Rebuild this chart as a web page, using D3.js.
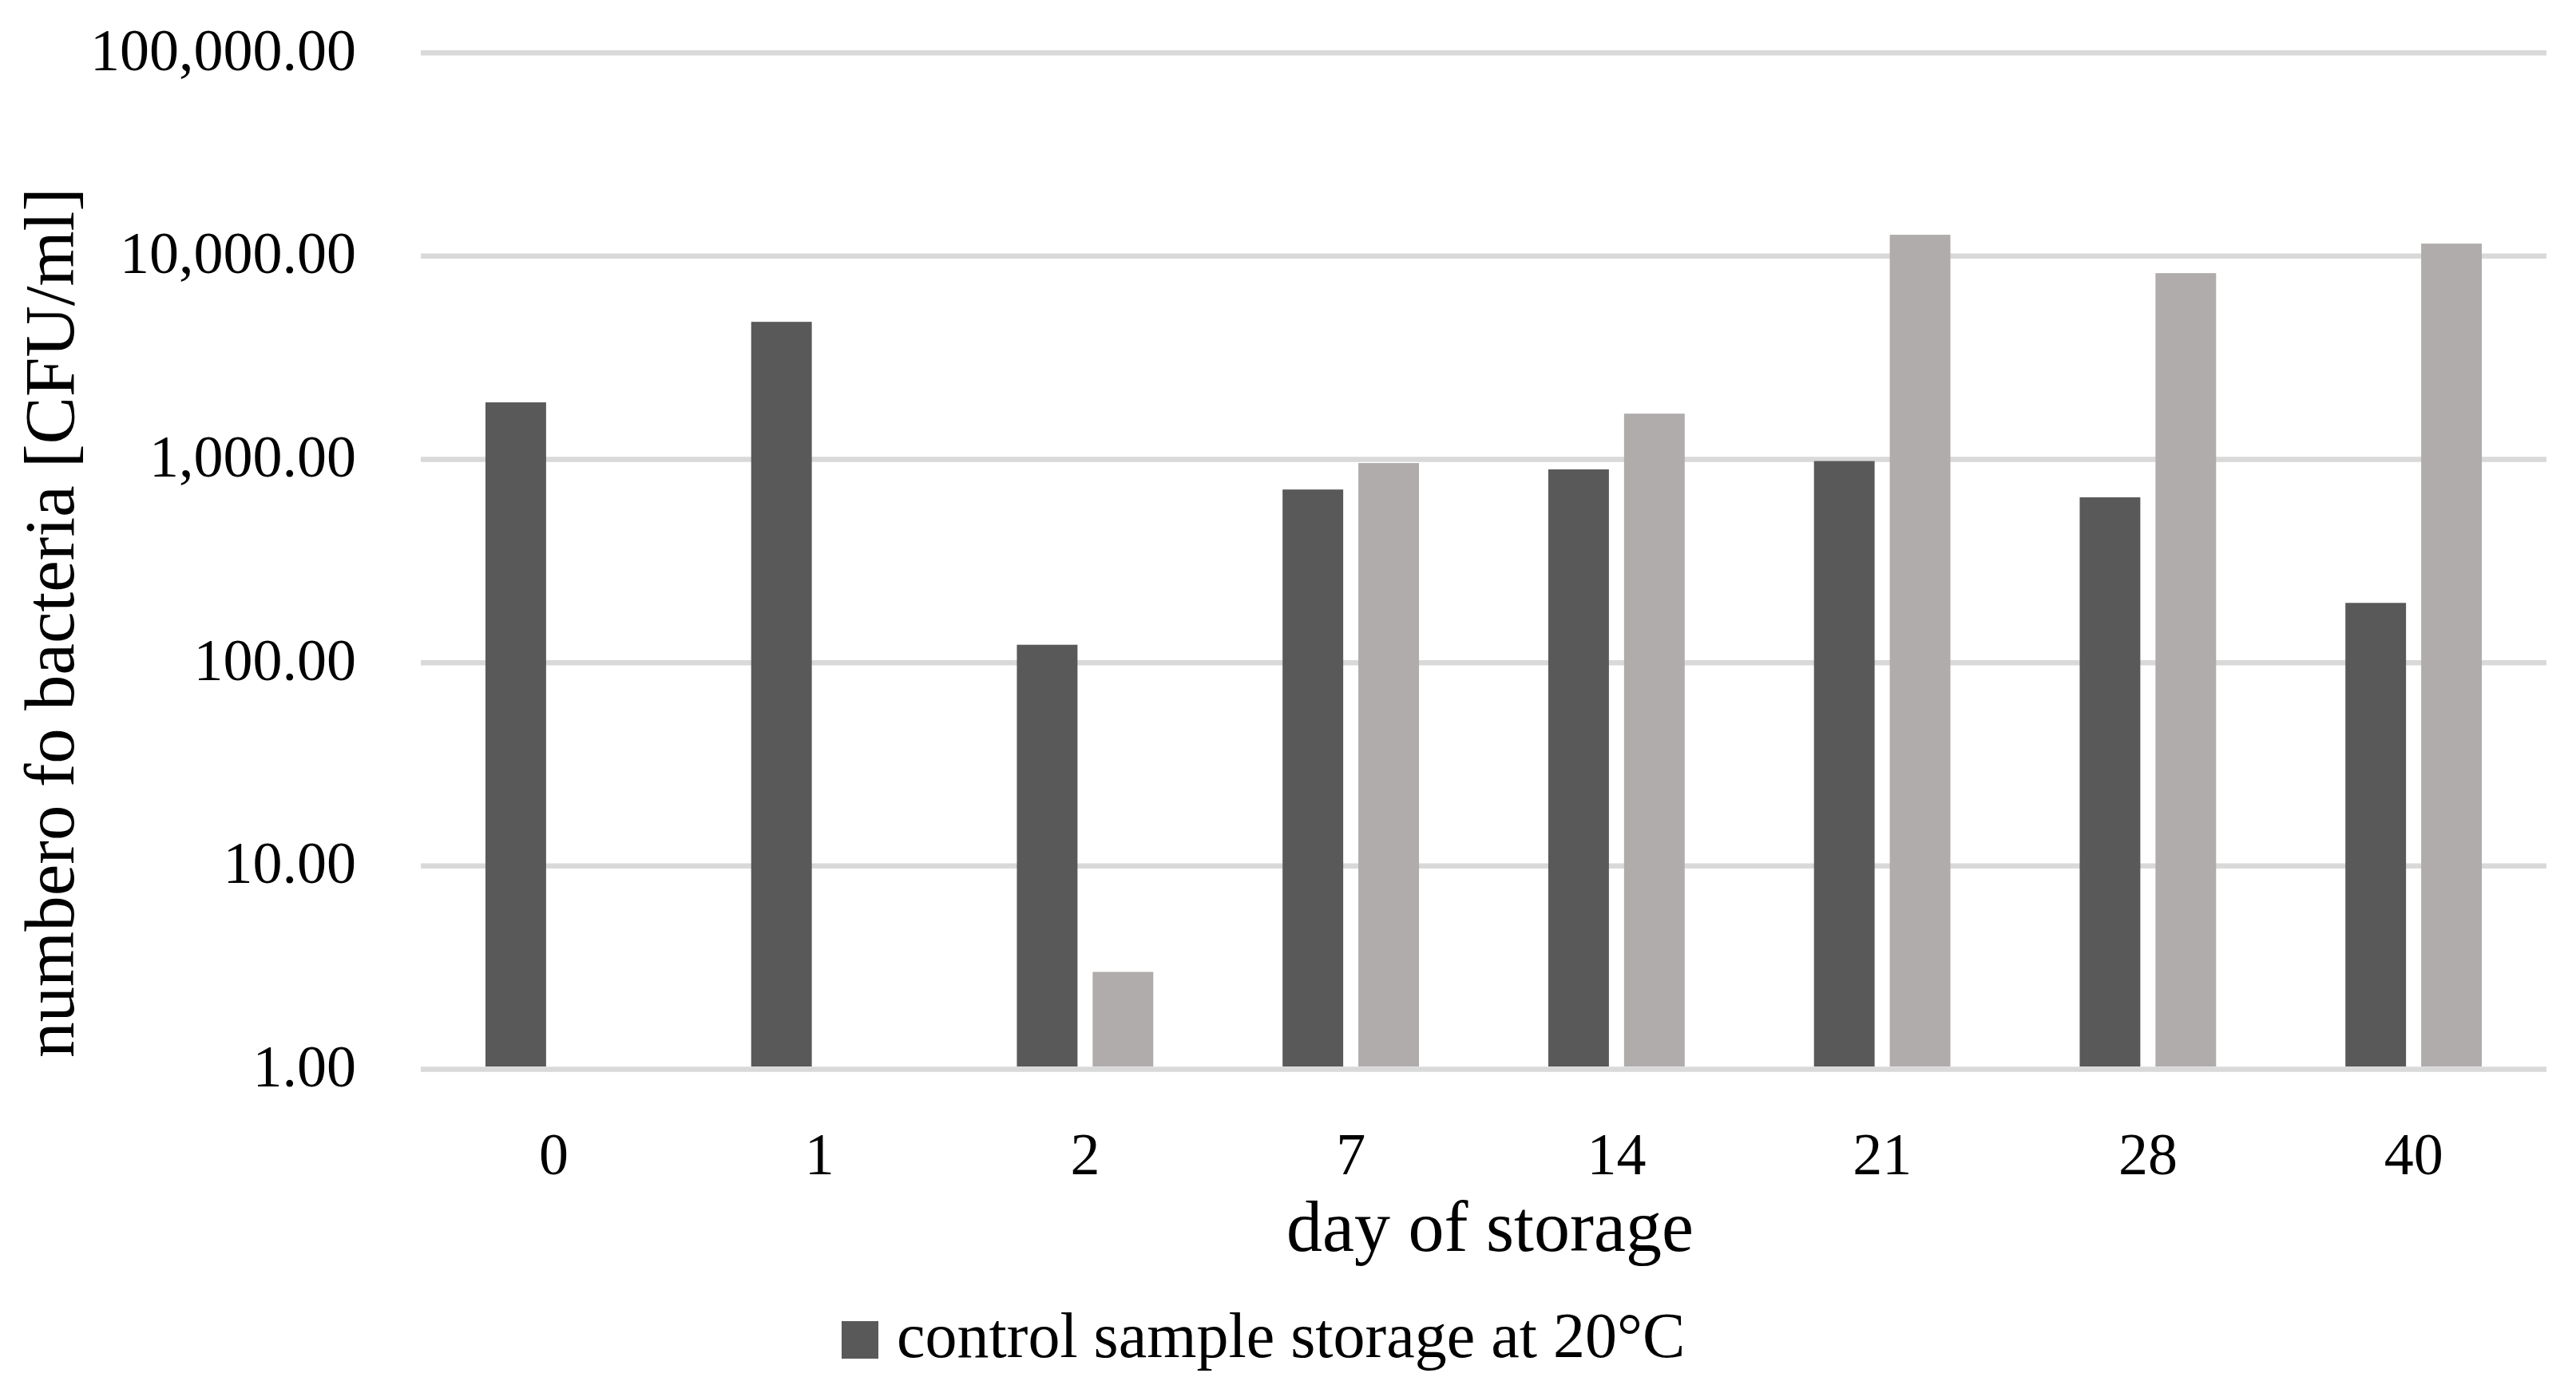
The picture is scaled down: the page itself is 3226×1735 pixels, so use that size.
<!DOCTYPE html>
<html>
<head>
<meta charset="utf-8">
<script src="https://cdn.jsdelivr.net/npm/d3@7"></script>
<style>
  body { margin: 0; background: #fff; }
  text { font-family: "Palatino Linotype", "Book Antiqua", Palatino, "Liberation Serif", serif; fill: #000; }
</style>
</head>
<body>
<div id="chart"></div>
<script>
// data
var days = ["0", "1", "2", "7", "14", "21", "28", "40"];
var control = [1900, 4730, 122, 708, 889, 977, 648, 196];
var treated = [null, null, 3, 955, 1672, 12680, 8210, 11470];
var yTicks = [1, 10, 100, 1000, 10000, 100000];
var seriesNames = ["control", "treated"];
var colors = ["#595959", "#afacab"];

var width = 3226,
    height = 1735;

// plot area (note: "top" is taken by window.top)
var plotL = 527, plotR = 3189,
    plotT = 65.7, plotB = 1339;

var svg = d3.select("#chart")
  .append("svg")
  .attr("width", width)
  .attr("height", height);

svg.append("rect").attr("width", width).attr("height", height).attr("fill", "#fff");

var x0 = d3.scaleBand().domain(days).range([plotL, plotR]).padding(0);
var x1 = d3.scaleBand().domain(seriesNames).range([0, x0.bandwidth()])
  .paddingInner(0.2).paddingOuter(0.853);
var y = d3.scaleLog().domain([1, 100000]).range([plotB, plotT]);

// y axis + gridlines
var yAxis = d3.axisLeft(y)
  .tickValues(yTicks)
  .tickFormat(d3.format(",.2f"))
  .tickSizeInner(-(plotR - plotL))
  .tickSizeOuter(0)
  .tickPadding(81);

var gy = svg.append("g")
  .attr("transform", "translate(" + plotL + ",0)")
  .call(yAxis);
gy.attr("font-family", null);
gy.select(".domain").remove();
gy.selectAll(".tick line").attr("stroke", "#d9d9d9").attr("stroke-width", 6.5);
gy.selectAll(".tick text")
  .attr("font-size", 74)
  .attr("dy", "0.29em");

// bars
var rows = days.map(function(d, i) {
  return { day: d, vals: [control[i], treated[i]] };
});

var groups = svg.selectAll(".grp").data(rows).enter().append("g")
  .attr("class", "grp")
  .attr("transform", function(d) { return "translate(" + x0(d.day) + ",0)"; });

groups.selectAll("rect")
  .data(function(d) {
    return d.vals.map(function(v, j) { return { name: seriesNames[j], v: v, c: colors[j] }; })
      .filter(function(e) { return e.v != null; });
  })
  .enter().append("rect")
  .attr("x", function(e) { return x1(e.name); })
  .attr("width", x1.bandwidth())
  .attr("y", function(e) { return y(e.v); })
  .attr("height", function(e) { return y(1) - 3 - y(e.v); })
  .attr("fill", function(e) { return e.c; });

// x axis (labels only)
var gx = svg.append("g")
  .attr("transform", "translate(0," + plotB + ")")
  .call(d3.axisBottom(x0).tickSize(0).tickPadding(0));
gx.attr("font-family", null);
gx.select(".domain").remove();
gx.selectAll(".tick text")
  .attr("font-size", 74)
  .attr("y", 132)
  .attr("dy", 0);

// axis titles
svg.append("text")
  .attr("x", (plotL + plotR) / 2 + 8)
  .attr("y", 1567)
  .attr("text-anchor", "middle")
  .attr("font-size", 90)
  .text("day of storage");

svg.append("text")
  .attr("transform", "translate(92,780) rotate(-90)")
  .attr("text-anchor", "middle")
  .attr("font-size", 89)
  .text("numbero fo bacteria [CFU/ml]");

// legend
svg.append("rect")
  .attr("x", 1054).attr("y", 1655)
  .attr("width", 46).attr("height", 47)
  .attr("fill", colors[0]);
svg.append("text")
  .attr("x", 1123).attr("y", 1700)
  .attr("font-size", 80)
  .text("control sample storage at 20°C");
</script>
</body>
</html>
